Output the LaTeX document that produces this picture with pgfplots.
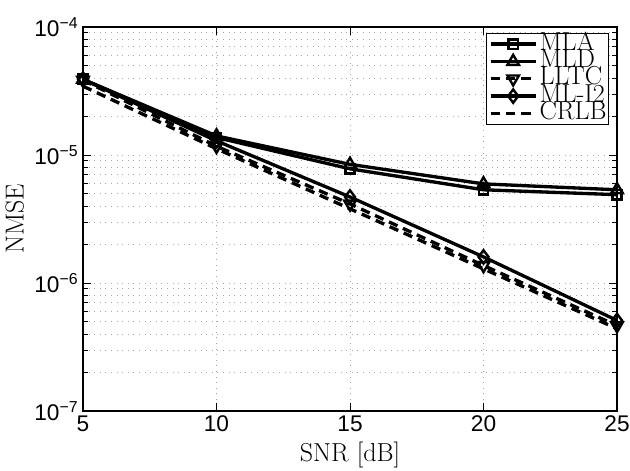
\documentclass[border=0pt]{standalone}
\usepackage{fontspec}
\newfontfamily\tickfont{Liberation Sans}
\usepackage{pgfplots}
\pgfplotsset{compat=1.18}
\begin{document}
\begin{tikzpicture}
\begin{semilogyaxis}[
  scale only axis, width=400.5pt, height=288pt,
  xmin=5, xmax=25, ymin=1e-7, ymax=1e-4,
  xtick={5,10,15,20,25},
  ytick={1e-7,1e-6,1e-5,1e-4},
  yticklabels={10\textsuperscript{−7},10\textsuperscript{−6},10\textsuperscript{−5},10\textsuperscript{−4}},
  tick label style={font=\tickfont\fontsize{17}{20}\selectfont},
  /pgf/number format/assume math mode=true,
  xlabel={SNR [dB]}, ylabel={NMSE},
  label style={font=\fontsize{19.5}{22}\selectfont},
  xlabel style={at={(axis description cs:0.5,-0.115)}, anchor=center},
  ylabel style={at={(axis description cs:-0.128,0.5)}, anchor=center},
  axis line style={line width=0.9pt},
  major tick length=6pt, minor tick length=3.5pt,
  every tick/.style={black, line width=0.6pt},
  xmajorgrids, ymajorgrids, yminorgrids,
  grid style={gray!70, line width=0.6pt, dash pattern=on 0.6pt off 3.6pt},
  legend style={at={(rel axis cs:1,1)}, anchor=north east, xshift=-6pt, yshift=-4.5pt,
    draw=black, line width=0.7pt, fill=white, inner sep=1.5pt, row sep=0pt,
    font=\fontsize{19.5}{13}\selectfont,
    nodes={inner sep=0pt, text height=11pt, text depth=2pt},
    /tikz/every odd column/.append style={column sep=1.5pt}},
  legend cell align=left,
  legend image code/.code={\draw[mark repeat=2,mark phase=2] plot coordinates {(0pt,0pt) (17pt,0pt) (34pt,0pt)};},
  every axis plot/.append style={black, line width=2.5pt},
]
\addplot[mark=square, mark size=3.5pt, mark options={solid, line width=1.8pt}] coordinates {
  (5,3.9e-5) (10,1.37e-5) (15,7.8e-6) (20,5.35e-6) (25,4.9e-6)};
\addlegendentry{MLA}
\addplot[mark=triangle, mark size=5pt, mark options={solid, line width=1.8pt}] coordinates {
  (5,3.9e-5) (10,1.41e-5) (15,8.45e-6) (20,5.95e-6) (25,5.35e-6)};
\addlegendentry{MLD}
\addplot[dash pattern=on 7pt off 4.5pt, mark=triangle, mark size=5pt, mark options={solid, rotate=180, line width=1.8pt}] coordinates {
  (5,3.85e-5) (10,1.17e-5) (15,4.15e-6) (20,1.37e-6) (25,4.65e-7)};
\addlegendentry{LLTC}
\addplot[mark=diamond, mark size=5pt, mark options={solid, line width=1.8pt}] coordinates {
  (5,3.9e-5) (10,1.29e-5) (15,4.7e-6) (20,1.6e-6) (25,5.1e-7)};
\addlegendentry{ML-I2}
\addplot[dash pattern=on 7pt off 4.5pt] coordinates {
  (5,3.45e-5) (10,1.12e-5) (15,3.8e-6) (20,1.29e-6) (25,4.4e-7)};
\addlegendentry{CRLB}
\end{semilogyaxis}
\pgfresetboundingbox
\path[use as bounding box] ([xshift=-62.25pt, yshift=-44.25pt]current axis.south west) rectangle ([xshift=9.75pt, yshift=20.25pt]current axis.north east);
\end{tikzpicture}
\end{document}
